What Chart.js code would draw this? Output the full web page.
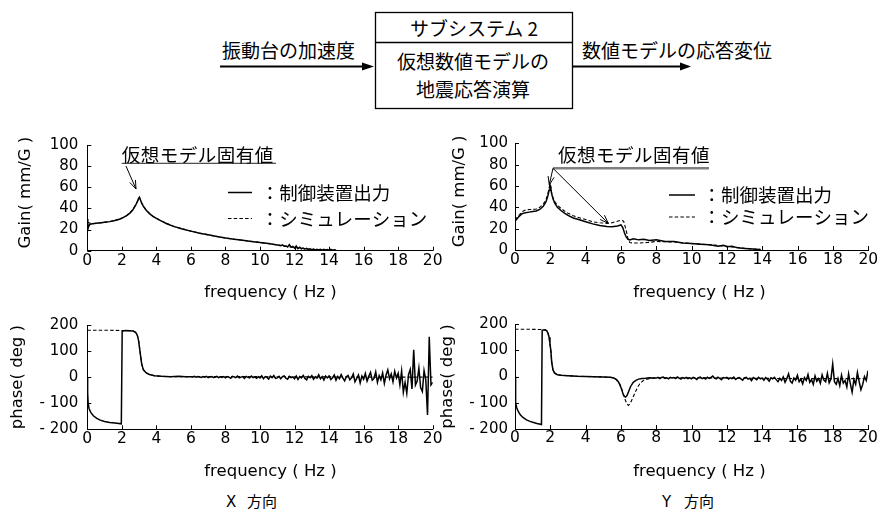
<!DOCTYPE html>
<html lang="ja">
<head>
<meta charset="utf-8">
<title>Frequency response X / Y</title>
<script src="https://cdn.jsdelivr.net/npm/chart.js@4.4.1/dist/chart.umd.min.js"></script>
<style>
  html, body { margin: 0; padding: 0; background: #fff; }
  #page { position: relative; width: 879px; height: 512px; overflow: hidden; }
  #page svg, #page canvas { position: absolute; left: 0; top: 0; }
  .jp { font-family: "Noto Sans CJK JP", sans-serif; font-size: 19px; fill: #000; }
  .dirL { font-family: "DejaVu Sans", sans-serif; font-size: 15px; fill: #000; }
  .dirJ { font-family: "Noto Sans CJK JP", sans-serif; font-size: 15px; fill: #000; }
</style>
</head>
<body>
<div id="page">
  <svg width="879" height="512">
    <rect x="375.5" y="12.5" width="197" height="96" fill="none" stroke="#000" stroke-width="1.3"/>
    <line x1="375.5" y1="42.5" x2="572.5" y2="42.5" stroke="#000" stroke-width="1.3"/>
    <line x1="220" y1="66.5" x2="364" y2="66.5" stroke="#000" stroke-width="1.8"/>
    <polygon points="362,62.5 374,66.5 362,70.5" fill="#000"/>
    <line x1="573" y1="66.5" x2="682" y2="66.5" stroke="#000" stroke-width="1.8"/>
    <polygon points="680,62.5 691,66.5 680,70.5" fill="#000"/>
    <text class="jp" x="474" y="27" text-anchor="middle" dominant-baseline="central">サブシステム 2</text>
    <text class="jp" x="473" y="60" text-anchor="middle" dominant-baseline="central">仮想数値モデルの</text>
    <text class="jp" x="473" y="88" text-anchor="middle" dominant-baseline="central">地震応答演算</text>
    <text class="jp" x="222" y="49" dominant-baseline="central">振動台の加速度</text>
    <text class="jp" x="582" y="49" dominant-baseline="central">数値モデルの応答変位</text>
    <text class="dirL" x="226" y="506.5">X</text>
    <text class="dirJ" x="247" y="506.5">方向</text>
    <text class="dirL" x="662" y="506.5">Y</text>
    <text class="dirJ" x="684" y="506.5">方向</text>
  </svg>
  <canvas id="gainX" width="879" height="512"></canvas>
  <canvas id="gainY" width="879" height="512"></canvas>
  <canvas id="phaseX" width="879" height="512"></canvas>
  <canvas id="phaseY" width="879" height="512"></canvas>
</div>
<script>
// ---- data ----
const freqTicks = [0, 2, 4, 6, 8, 10, 12, 14, 16, 18, 20];
const gainTicks = [0, 20, 40, 60, 80, 100];
const phaseTicks = [-200, -100, 0, 100, 200];

const legendLabels = ['：制御装置出力', '：シミュレーション'];
const noteText = '仮想モデル固有値';
const freqTitle = 'frequency ( Hz )';
const gainTitle = 'Gain( mm/G )';
const phaseTitle = 'phase( deg )';

// X direction gain
const gainXFreq = [
  0, 0.03, 0.08, 0.15, 0.3, 0.5, 0.8, 1.0, 1.3, 1.6,
  1.9, 2.1, 2.3, 2.5, 2.65, 2.8, 2.9, 2.97, 3.02, 3.08,
  3.15, 3.25, 3.4, 3.6, 3.8, 4.0, 4.3, 4.6, 5.0, 5.5,
  6.0, 6.5, 7.0, 7.5, 8.0, 8.5, 9.0, 9.5, 10.0, 10.5,
  11.0, 11.1, 11.2, 11.3, 11.4, 11.5, 11.6, 11.7, 11.8, 11.9,
  12.0, 12.1, 12.2, 12.3, 12.4, 12.5, 12.6, 12.7, 12.8, 12.9,
  13.0, 13.1, 13.2, 13.3, 13.4, 13.5, 13.6, 13.7, 13.8, 13.9,
  14.0, 14.1, 14.2, 14.3, 14.4
];
const gainXCtrl = [
  30, 20, 23, 25, 25.5, 26, 26.5, 27, 27.5, 28.5,
  30, 31.5, 33.5, 36, 39, 43, 46.5, 49.5, 50.5, 48,
  45, 42, 38.5, 35, 32.5, 30.5, 28, 25.5, 23, 20.5,
  18.5, 16.5, 15, 13.5, 12, 10.8, 9.8, 8.8, 7.8, 6.8,
  5.5, 5.2, 4.8, 5.5, 4.2, 4.5, 3.5, 5.8, 3.2, 4.0,
  2.5, 4.5, 2.0, 3.2, 1.8, 2.5, 1.5, 2.2, 1.2, 1.8,
  1.0, 1.6, 0.8, 1.3, 0.6, 1.2, 0.5, 1.4, 0.6, 1.0,
  0.4, 1.2, 0.5, 0.9, 0.4
];
const gainXSimFreq = [0, 0.3, 0.8, 1.3, 1.9, 2.3, 2.65, 2.9, 3.02, 3.15, 3.4, 3.8, 4.3, 5.0, 6.0, 7.0, 8.0, 9.0, 10.0, 11.0, 12.0, 13.0, 14.4];
const gainXSim = [27, 25.5, 26.5, 27.5, 30, 33.5, 39, 46.5, 50.5, 45, 38.5, 32.5, 28, 23, 18.5, 15, 12, 9.8, 7.8, 5.5, 3, 1.2, 0.4];

// Y direction gain
const gainYFreq = [
  0, 0.2, 0.4, 0.6, 0.8, 1.0, 1.2, 1.4, 1.6, 1.75,
  1.85, 1.93, 1.98, 2.02, 2.07, 2.15, 2.25, 2.4, 2.6, 2.8,
  3.0, 3.3, 3.6, 4.0, 4.4, 4.8, 5.2, 5.5, 5.8, 6.0,
  6.1, 6.2, 6.3, 6.4, 6.5, 6.7, 7.0, 7.3, 7.6, 8.0,
  8.5, 9.0, 9.5, 10.0, 10.5, 11.0, 11.5, 11.8, 12.0, 12.3,
  12.6, 13.0, 13.3, 13.6, 13.9
];
const gainYCtrl = [
  27, 31, 34, 35, 35.5, 36, 36.5, 38, 41, 45,
  50, 56, 61, 59, 53, 48, 44, 40, 37, 34.5,
  32.5, 30, 28.5, 26.5, 24.5, 23, 22, 21.8, 22.5, 23.5,
  21, 16, 12, 10, 9.5, 10.5, 9.5, 10, 9, 9.5,
  8, 8, 6.5, 6, 5.5, 5, 3.5, 4.5, 3, 3.5,
  2, 1.5, 1.2, 0.8, 0.5
];
const gainYSimFreq = [
  0, 0.2, 0.4, 0.6, 0.8, 1.0, 1.2, 1.4, 1.6, 1.75,
  1.85, 1.93, 1.98, 2.02, 2.07, 2.15, 2.25, 2.4, 2.6, 2.8,
  3.0, 3.3, 3.6, 4.0, 4.4, 4.8, 5.2, 5.5, 5.8, 6.0,
  6.15, 6.3, 6.4, 6.5, 6.7, 7.0, 7.5, 8.0, 9.0, 10.0,
  11.0, 12.0, 13.0, 13.9
];
const gainYSim = [
  28, 32, 36, 37.5, 38, 38, 38.5, 40, 43, 47,
  52, 58, 62, 60, 54, 49, 45.5, 42, 39, 36.5,
  34.5, 32, 30.5, 28.5, 26.5, 25.5, 25, 25.5, 27, 28,
  27, 18, 10, 7, 6.5, 6.5, 7, 8, 7.5, 6,
  5, 3.5, 1.5, 0.5
];

// X direction phase
const phaseXFreq = [
  0, 0.02, 0.05, 0.1, 0.2, 0.35, 0.55, 0.75, 1.0, 1.3,
  1.6, 1.97, 2.02, 2.2, 2.45, 2.65, 2.8, 2.9, 2.97, 3.05,
  3.15, 3.25, 3.4, 3.6, 3.9, 4.3, 4.8, 5.3, 5.7,
  6.0, 6.1, 6.2, 6.3, 6.4, 6.5, 6.6, 6.7, 6.8, 6.9,
  7.0, 7.1, 7.2, 7.3, 7.4, 7.5, 7.6, 7.7, 7.8, 7.9,
  8.0, 8.1, 8.2, 8.3, 8.4, 8.5, 8.6, 8.7, 8.8, 8.9,
  9.0, 9.1, 9.2, 9.3, 9.4, 9.5, 9.6, 9.7, 9.8, 9.9,
  10.0, 10.1, 10.2, 10.3, 10.4, 10.5, 10.6, 10.7, 10.8, 10.9,
  11.0, 11.1, 11.2, 11.3, 11.4, 11.5, 11.6, 11.7, 11.8, 11.9,
  12.0, 12.1, 12.2, 12.3, 12.4, 12.5, 12.6, 12.7, 12.8, 12.9,
  13.0, 13.1, 13.2, 13.3, 13.4, 13.5, 13.6, 13.7, 13.8, 13.9,
  14.0, 14.1, 14.2, 14.3, 14.4, 14.5, 14.6, 14.7, 14.8, 14.9,
  15.0, 15.1, 15.2, 15.3, 15.4, 15.5, 15.6, 15.7, 15.8, 15.9,
  16.0, 16.1, 16.2, 16.3, 16.4, 16.5, 16.6, 16.7, 16.8, 16.9,
  17.0, 17.1, 17.2, 17.3, 17.4, 17.5, 17.6, 17.7, 17.8, 17.9,
  18.0, 18.1, 18.2, 18.3, 18.4, 18.5, 18.6, 18.7, 18.8, 18.9,
  19.0, 19.1, 19.2, 19.3, 19.4, 19.5, 19.6, 19.7, 19.8, 19.9,
  20.0
];
const phaseXCtrl = [
  0, -60, -100, -120, -135, -148, -158, -165, -170, -174,
  -176, -179, 176, 179, 178, 177, 172, 160, 140, 100,
  50, 28, 17, 10, 5, 3, 2, 3, 2,
  2, 1, 3, 0, 2, 1, -1, 2, 0, 3,
  -2, 1, 2, -1, 0, 3, -2, 1, -1, 2,
  -3, 2, 0, -4, 3, 1, -2, 4, -3, 0,
  2, -5, 3, -1, -3, 4, -2, 1, -4, 2,
  -3, 5, -6, 2, -1, -7, 4, -2, 6, -5,
  -3, 3, -6, 2, 5, -4, -8, 3, -2, 1,
  -6, 4, -9, 2, -3, 7, -5, -10, 3, -2,
  6, -8, 1, -4, 9, -6, 2, -11, 4, -3,
  5, -9, -2, 8, -12, 3, -6, 10, -4, -14,
  2, 7, -10, -3, 12, -18, -5, 8, -22, 4,
  -8, 14, -15, 3, 18, -12, -5, 20, -20, 6,
  -10, 16, -24, 8, 28, -6, 12, -18, 22, -3,
  15, -30, 24, -58, -20, -62, 10, 30, -45, 105,
  -30, -15, 35, -40, -55, 25, -10, -145, 155, -30,
  -20
];
const phaseXSimFreq = [0, 1.0, 2.0, 2.2, 2.45, 2.65, 2.8, 2.9, 2.97, 3.05, 3.15, 3.25, 3.4, 3.6, 3.9, 4.3, 5.0, 6, 8, 10, 12, 14, 16, 18, 20];
const phaseXSim = [180, 180, 179, 179, 178, 177, 172, 160, 140, 100, 50, 28, 17, 10, 5, 3, 2, 2, 2, 2, 1, 1, 0, 0, 0];

// Y direction phase
const phaseYFreq = [
  0, 0.02, 0.05, 0.1, 0.2, 0.3, 0.45, 0.65, 0.85, 1.05,
  1.25, 1.5, 1.54, 1.7, 1.8, 1.87, 1.93, 1.98, 2.03, 2.08,
  2.15, 2.25, 2.4, 2.6, 3.0, 3.5, 4.0, 4.5, 5.0, 5.4,
  5.6, 5.75, 5.85, 5.95, 6.05, 6.13, 6.2, 6.27, 6.35, 6.45,
  6.55, 6.7, 6.85, 7.0, 7.2, 7.4, 7.6, 7.8,
  8.0, 8.1, 8.2, 8.3, 8.4, 8.5, 8.6, 8.7, 8.8, 8.9,
  9.0, 9.1, 9.2, 9.3, 9.4, 9.5, 9.6, 9.7, 9.8, 9.9,
  10.0, 10.1, 10.2, 10.3, 10.4, 10.5, 10.6, 10.7, 10.8, 10.9,
  11.0, 11.1, 11.2, 11.3, 11.4, 11.5, 11.6, 11.7, 11.8, 11.9,
  12.0, 12.1, 12.2, 12.3, 12.4, 12.5, 12.6, 12.7, 12.8, 12.9,
  13.0, 13.1, 13.2, 13.3, 13.4, 13.5, 13.6, 13.7, 13.8, 13.9,
  14.0, 14.1, 14.2, 14.3, 14.4, 14.5, 14.6, 14.7, 14.8, 14.9,
  15.0, 15.1, 15.2, 15.3, 15.4, 15.5, 15.6, 15.7, 15.8, 15.9,
  16.0, 16.1, 16.2, 16.3, 16.4, 16.5, 16.6, 16.7, 16.8, 16.9,
  17.0, 17.1, 17.2, 17.3, 17.4, 17.5, 17.6, 17.7, 17.8, 17.9,
  18.0, 18.1, 18.2, 18.3, 18.4, 18.5, 18.6, 18.7, 18.8, 18.9,
  19.0, 19.1, 19.2, 19.3, 19.4, 19.5, 19.6, 19.7, 19.8, 19.9,
  20.0
];
const phaseYCtrl = [
  0, -60, -100, -120, -135, -146, -156, -165, -171, -175,
  -179, -183, 176, 178, 174, 165, 150, 125, 100, 55,
  25, 13, 7, 5, 3, 1, 0, -1, -2, -3,
  -6, -12, -20, -32, -50, -68, -76, -78, -72, -55,
  -38, -22, -15, -10, -8, -7, -5, -6,
  -6, -3, -8, -4, -2, -7, -5, -9, -3, -6,
  -4, -8, -2, -6, -10, -4, -7, -3, -8, -5,
  -9, -3, -6, -11, -4, -2, -8, -5, -10, -3,
  -7, -4, 2, -6, -9, -3, -7, -12, -4, -6,
  -3, -10, -5, -8, -2, -11, -6, -4, -9, -14,
  -5, -3, -10, -7, -16, -4, -8, -12, -3, -9,
  -6, -14, -4, -10, -18, -5, -9, -3, -12, -20,
  -7, -15, -2, -22, -8, 10, -18, -25, -6, -14,
  5, -20, -10, -28, -4, -15, 8, -22, -12, -30,
  2, -18, -8, -26, 6, -14, -20, 12, -24, -10,
  48, -20, -30, -8, -35, 5, -25, -15, -40, 10,
  -28, -60, -12, -30, 15, -20, -50, -30, 0, -15,
  22
];
const phaseYSimFreq = [
  0, 0.75, 1.5, 1.7, 1.8, 1.87, 1.93, 1.98, 2.03, 2.08,
  2.15, 2.25, 2.4, 2.6, 3.0, 3.5, 4.0, 4.5, 5.0, 5.4,
  5.6, 5.75, 5.9, 6.05, 6.2, 6.32, 6.42, 6.52, 6.65, 6.8,
  6.95, 7.1, 7.3, 7.6, 8, 10, 12, 14, 16, 18, 20
];
const phaseYSim = [
  180, 180, 179, 178, 174, 165, 150, 125, 100, 55,
  25, 13, 7, 5, 3, 1, 0, -1, -2, -3,
  -6, -12, -25, -48, -80, -102, -110, -104, -85, -62,
  -40, -25, -14, -8, -5, -5, -6, -7, -8, -8, -8
];

// ---- drawing ----
const PAGE_W = 879, PAGE_H = 512;
const simDash = [3.5, 2.2];
const cjkFont = '"Noto Sans CJK JP", sans-serif';
const latinFont = "'DejaVu Sans', sans-serif";

function toPoints(freq, vals) {
  return freq.map((f, i) => ({ x: f, y: vals[i] }));
}

function phaseLabel(v) {
  return v < 0 ? '- ' + Math.abs(v) : String(v);
}

function drawArrow(ctx, x0, y0, x1, y1) {
  const ang = Math.atan2(y1 - y0, x1 - x0);
  const len = 9, spread = 0.35;
  ctx.beginPath();
  ctx.moveTo(x0, y0);
  ctx.lineTo(x1, y1);
  ctx.moveTo(x1 - len * Math.cos(ang - spread), y1 - len * Math.sin(ang - spread));
  ctx.lineTo(x1, y1);
  ctx.lineTo(x1 - len * Math.cos(ang + spread), y1 - len * Math.sin(ang + spread));
  ctx.stroke();
}

function drawLegend(ctx, lg) {
  ctx.font = '18.5px ' + cjkFont;
  ctx.textBaseline = 'middle';
  ctx.textAlign = 'left';
  ctx.fillStyle = '#000';
  ctx.strokeStyle = '#000';
  legendLabels.forEach((label, i) => {
    ctx.setLineDash(i ? simDash : []);
    ctx.lineWidth = i ? 1.1 : 1.5;
    ctx.beginPath();
    ctx.moveTo(lg.x0, lg.rows[i]);
    ctx.lineTo(lg.x1, lg.rows[i]);
    ctx.stroke();
    ctx.setLineDash([]);
    ctx.fillText(label, lg.tx, lg.rows[i]);
  });
}

function drawNote(ctx, x, y, note) {
  const px = v => x.getPixelForValue(v);
  const py = v => y.getPixelForValue(v);
  ctx.font = '18.5px ' + cjkFont;
  ctx.letterSpacing = '0.5px';
  ctx.textBaseline = 'middle';
  ctx.textAlign = 'left';
  ctx.fillStyle = '#000';
  ctx.fillText(noteText, px(note.text[0]), py(note.text[1]));
  ctx.letterSpacing = '0px';

  ctx.strokeStyle = note.lineColor;
  ctx.lineWidth = note.lineWidth;
  ctx.beginPath();
  ctx.moveTo(px(note.line[0]), py(note.line[2]));
  ctx.lineTo(px(note.line[1]), py(note.line[2]));
  ctx.stroke();

  ctx.strokeStyle = '#000';
  ctx.lineWidth = 1;
  note.arrows.forEach(a => drawArrow(ctx, px(a[0]), py(a[1]), px(a[2]), py(a[3])));
}

// inward tick marks, legend and the callout
function figurePlugin(cfg) {
  return {
    id: 'figure',
    afterDraw(chart) {
      const { ctx, chartArea: area, scales: { x, y } } = chart;
      ctx.save();
      ctx.strokeStyle = '#000';
      ctx.lineWidth = 1;
      ctx.beginPath();
      x.ticks.forEach(t => {
        const px = Math.round(x.getPixelForValue(t.value)) + 0.5;
        ctx.moveTo(px, area.bottom);
        ctx.lineTo(px, area.bottom - 4);
      });
      y.ticks.forEach(t => {
        const py = Math.round(y.getPixelForValue(t.value)) + 0.5;
        ctx.moveTo(area.left, py);
        ctx.lineTo(area.left + 4, py);
      });
      ctx.stroke();
      if (cfg.legend) drawLegend(ctx, cfg.legend);
      if (cfg.note) drawNote(ctx, x, y, cfg.note);
      ctx.restore();
    }
  };
}

function makeChart(cfg) {
  const a = cfg.area;
  return new Chart(document.getElementById(cfg.id), {
    type: 'line',
    data: {
      datasets: [
        {
          label: legendLabels[0],
          data: toPoints(cfg.ctrlFreq, cfg.ctrl),
          borderColor: '#000',
          borderWidth: 1.5,
          pointRadius: 0,
          tension: 0
        },
        {
          label: legendLabels[1],
          data: toPoints(cfg.simFreq, cfg.sim),
          borderColor: '#000',
          borderWidth: 1.1,
          borderDash: simDash,
          pointRadius: 0,
          tension: 0
        }
      ]
    },
    options: {
      responsive: false,
      animation: false,
      events: [],
      layout: {
        padding: {
          left: a.left - cfg.yW,
          right: PAGE_W - a.right,
          top: a.top,
          bottom: PAGE_H - a.bottom - cfg.xH
        }
      },
      plugins: { legend: { display: false }, tooltip: { enabled: false } },
      scales: {
        x: {
          type: 'linear',
          min: 0,
          max: 20,
          afterBuildTicks: s => { s.ticks = freqTicks.map(v => ({ value: v })); },
          afterFit: s => { s.height = cfg.xH; },
          grid: { display: false, drawTicks: false },
          border: { display: true, color: '#000', width: 1 },
          ticks: {
            autoSkip: false,
            maxRotation: 0,
            padding: cfg.xPad,
            color: '#000',
            font: { family: latinFont, size: 15.5 }
          },
          title: {
            display: true,
            text: cfg.xTitle,
            color: '#000',
            padding: 0,
            font: { family: latinFont, size: 16.5 }
          }
        },
        y: {
          type: 'linear',
          min: cfg.yTicks[0],
          max: cfg.yTicks[cfg.yTicks.length - 1],
          afterBuildTicks: s => { s.ticks = cfg.yTicks.map(v => ({ value: v })); },
          afterFit: s => { s.width = cfg.yW; },
          grid: { display: false, drawTicks: false },
          border: { display: true, color: '#000', width: 1 },
          ticks: {
            padding: cfg.yPad,
            color: '#000',
            font: { family: latinFont, size: 15 },
            callback: cfg.yLabel
          },
          title: {
            display: true,
            text: cfg.yTitle,
            color: '#000',
            padding: 0,
            font: { family: latinFont, size: 16.5 }
          }
        }
      }
    },
    plugins: [figurePlugin(cfg)]
  });
}

makeChart({
  id: 'gainX',
  area: { left: 87.3, right: 432.7, top: 145, bottom: 250.7 },
  yW: 71, xH: 52, xPad: 0.5, yPad: 9,
  ctrlFreq: gainXFreq, ctrl: gainXCtrl, simFreq: gainXSimFreq, sim: gainXSim,
  yTicks: gainTicks, yLabel: v => String(v),
  xTitle: '    ' + freqTitle, yTitle: '  ' + gainTitle,
  legend: { x0: 228, x1: 252, tx: 260.8, rows: [192.5, 218.5] },
  note: {
    text: [2.0, 91], line: [1.99, 10.93, 82.7], lineColor: '#222', lineWidth: 1,
    arrows: [[2.24, 80.1, 2.82, 58.4]]
  }
});

makeChart({
  id: 'gainY',
  area: { left: 515, right: 868.3, top: 143.3, bottom: 250 },
  yW: 65, xH: 53, xPad: 0.5, yPad: 7,
  ctrlFreq: gainYFreq, ctrl: gainYCtrl, simFreq: gainYSimFreq, sim: gainYSim,
  yTicks: gainTicks, yLabel: v => String(v),
  xTitle: '   ' + freqTitle, yTitle: '  ' + gainTitle,
  legend: { x0: 669, x1: 695, tx: 702.5, rows: [195, 217] },
  note: {
    text: [2.43, 88.6], line: [2.15, 10.98, 76.6], lineColor: '#808080', lineWidth: 2.4,
    arrows: [[2.15, 76.6, 1.94, 61], [2.15, 76.6, 5.28, 25]]
  }
});

makeChart({
  id: 'phaseX',
  area: { left: 87.3, right: 432.7, top: 325, bottom: 429.3 },
  yW: 79, xH: 52.7, xPad: 0, yPad: 9,
  ctrlFreq: phaseXFreq, ctrl: phaseXCtrl, simFreq: phaseXSimFreq, sim: phaseXSim,
  yTicks: phaseTicks, yLabel: phaseLabel,
  xTitle: '    ' + freqTitle, yTitle: phaseTitle
});

makeChart({
  id: 'phaseY',
  area: { left: 515, right: 868, top: 324, bottom: 429 },
  yW: 77, xH: 53, xPad: 0, yPad: 7,
  ctrlFreq: phaseYFreq, ctrl: phaseYCtrl, simFreq: phaseYSimFreq, sim: phaseYSim,
  yTicks: phaseTicks, yLabel: phaseLabel,
  xTitle: '   ' + freqTitle, yTitle: phaseTitle
});
</script>
</body>
</html>
